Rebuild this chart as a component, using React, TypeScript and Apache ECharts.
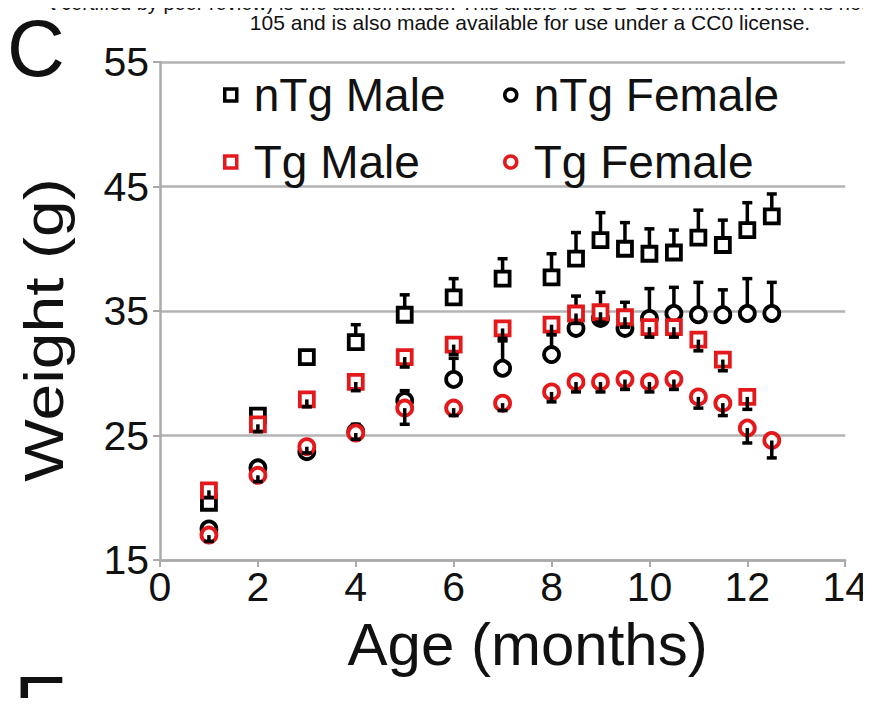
import React, { useEffect, useRef } from "react";
import * as echarts from "echarts";

const ages = [1, 2, 3, 4, 5, 6, 7, 8, 8.5, 9, 9.5, 10, 10.5, 11, 11.5, 12, 12.5];
const tgMaleAges = [1, 2, 3, 4, 5, 6, 7, 8, 8.5, 9, 9.5, 10, 10.5, 11, 11.5, 12];

const nTgMale = [19.6, 26.6, 31.3, 32.5, 34.7, 36.1, 37.6, 37.7, 39.2, 40.7, 40.0, 39.6, 39.7, 40.9, 40.3, 41.5, 42.6];
const nTgMaleErr = [0.3, 0.4, 0.5, 1.4, 1.6, 1.5, 1.6, 1.9, 2.1, 2.2, 2.1, 2.0, 1.8, 2.2, 2.0, 2.2, 1.8];

const nTgFemale = [17.5, 22.4, 23.7, 25.3, 27.8, 29.5, 30.4, 31.5, 33.6, 34.4, 33.6, 34.4, 34.8, 34.7, 34.7, 34.8, 34.8];
const nTgFemaleErr = [0.4, 0.4, 0.5, 0.6, 0.8, 1.7, 2.2, 1.6, 2.6, 2.1, 2.1, 2.4, 2.1, 2.6, 2.0, 2.8, 2.5];

const tgMale = [20.6, 25.9, 27.9, 29.3, 31.3, 32.3, 33.6, 33.9, 34.8, 34.9, 34.5, 33.7, 33.7, 32.7, 31.1, 28.1];
const tgMaleErr = [0.6, 0.6, 0.6, 0.7, 0.8, 0.8, 0.8, 0.8, 0.8, 0.8, 0.8, 0.8, 0.8, 0.9, 0.9, 1.0];

const tgFemale = [17.0, 21.8, 24.1, 25.2, 27.2, 27.2, 27.6, 28.5, 29.3, 29.3, 29.5, 29.3, 29.5, 28.1, 27.6, 25.6, 24.6];
const tgFemaleErr = [0.5, 0.5, 0.5, 0.5, 1.3, 0.6, 0.6, 0.8, 0.8, 0.8, 0.8, 0.8, 0.8, 0.9, 1.0, 1.2, 1.4];

const xTicks = [0, 2, 4, 6, 8, 10, 12, 14];
const yTicks = [15, 25, 35, 45, 55];

const RED = "#e3191c";
const BLACK = "#000000";
const FONT = "'Liberation Sans', Arial, sans-serif";

function errSeries(name: string, xs: number[], ys: number[], es: number[], dir: number, z: number) {
  return {
    type: "custom",
    name: name + " err",
    z,
    silent: true,
    data: xs.map((x, i) => [x, ys[i], es[i]]),
    renderItem: (_p: any, api: any) => {
      const x = api.value(0);
      const y = api.value(1);
      const e = api.value(2);
      const p0 = api.coord([x, y]);
      const p1 = api.coord([x, y + dir * e]);
      return {
        type: "group",
        children: [
          { type: "line", shape: { x1: p0[0], y1: p0[1], x2: p1[0], y2: p1[1] }, style: { stroke: BLACK, lineWidth: 3.5 } },
          { type: "line", shape: { x1: p1[0] - 5, y1: p1[1], x2: p1[0] + 5, y2: p1[1] }, style: { stroke: BLACK, lineWidth: 3.5 } },
        ],
      };
    },
  };
}

function scatter(name: string, xs: number[], ys: number[], symbol: string, color: string, z: number, size: number) {
  return {
    type: "scatter",
    name,
    z,
    symbol,
    symbolSize: size,
    data: xs.map((x, i) => [x, ys[i]]),
    itemStyle: { color: "#ffffff", borderColor: color, borderWidth: 3.8, opacity: 1 },
  };
}

function legendFor(name: string, icon: string, color: string, left: number, top: number) {
  return {
    data: [name],
    left,
    top,
    icon,
    itemWidth: 12,
    itemHeight: 12,
    selectedMode: false,
    itemStyle: { color: "#ffffff", borderColor: color, borderWidth: 3.5 },
    textStyle: { fontSize: 46, color: "#111", fontFamily: FONT, padding: [0, 0, 0, 12] },
  };
}

export default function App() {
  const ref = useRef<HTMLDivElement>(null);
  useEffect(() => {
    if (!ref.current) return;
    const chart = echarts.init(ref.current, null, { renderer: "svg" });
    chart.setOption({
      animation: false,
      backgroundColor: "#ffffff",
      grid: { left: 160, right: 25, top: 62, bottom: 146 },
      legend: [
        legendFor("nTg Male", "rect", BLACK, 218, 67),
        legendFor("nTg Female", "circle", BLACK, 498, 67),
        legendFor("Tg Male", "rect", RED, 218, 134),
        legendFor("Tg Female", "circle", RED, 498, 134),
      ],
      xAxis: {
        type: "value",
        min: xTicks[0],
        max: xTicks[xTicks.length - 1],
        interval: 2,
        name: "Age (months)",
        nameLocation: "middle",
        nameGap: 54,
        nameTextStyle: { fontSize: 60, color: "#111", fontFamily: FONT, padding: [0, 0, 0, 50] },
        axisLine: { show: true, lineStyle: { color: "#aaaaaa", width: 2.5 } },
        axisTick: { show: true, length: 7, lineStyle: { color: "#aaaaaa", width: 2 } },
        axisLabel: { fontSize: 41, color: "#111", fontFamily: FONT, margin: 6 },
        splitLine: { show: false },
      },
      yAxis: {
        type: "value",
        min: yTicks[0],
        max: yTicks[yTicks.length - 1],
        interval: 10,
        axisLine: { show: true, lineStyle: { color: "#aaaaaa", width: 2.5 } },
        axisTick: { show: true, length: 7, lineStyle: { color: "#aaaaaa", width: 2 } },
        axisLabel: { fontSize: 41, color: "#111", fontFamily: FONT, margin: 11 },
        splitLine: { show: true, lineStyle: { color: "#b3b3b3", width: 2.5 } },
      },
      graphic: [
        {
          type: "text",
          x: 44,
          y: 330,
          rotation: Math.PI / 2,
          scaleX: 1.18,
          style: {
            text: "Weight (g)",
            fontSize: 56,
            fill: "#111",
            fontFamily: FONT,
            textAlign: "center",
            textVerticalAlign: "middle",
          },
        },
        {
          type: "text",
          right: 4,
          top: -7,
          style: {
            text: "t certified by peer review) is the author/funder. This article is a US Government work. It is not",
            fontSize: 20,
            fill: "#111",
            fontFamily: FONT,
          },
        },
        {
          type: "text",
          x: 530,
          y: 12,
          style: {
            text: "105 and is also made available for use under a CC0 license.",
            fontSize: 21,
            fill: "#111",
            fontFamily: FONT,
            textAlign: "center",
          },
        },
        { type: "text", x: 7, y: 8, style: { text: "C", fontSize: 80, fill: "#111", fontFamily: FONT } },
        { type: "text", x: 14, y: 664, style: { text: "E", fontSize: 80, fill: "#111", fontFamily: FONT } },
      ],
      series: [
        errSeries("nTg Male", ages, nTgMale, nTgMaleErr, 1, 2),
        errSeries("nTg Female", ages, nTgFemale, nTgFemaleErr, 1, 2),
        scatter("nTg Male", ages, nTgMale, "rect", BLACK, 3, 14),
        scatter("nTg Female", ages, nTgFemale, "circle", BLACK, 3, 15),
        scatter("Tg Male", tgMaleAges, tgMale, "rect", RED, 4, 14),
        scatter("Tg Female", ages, tgFemale, "circle", RED, 4, 15),
        errSeries("Tg Male", tgMaleAges, tgMale, tgMaleErr, -1, 5),
        errSeries("Tg Female", ages, tgFemale, tgFemaleErr, -1, 5),
      ],
    });
    return () => chart.dispose();
  }, []);
  return <div ref={ref} style={{ width: 871, height: 706, margin: -8 }} />;
}
